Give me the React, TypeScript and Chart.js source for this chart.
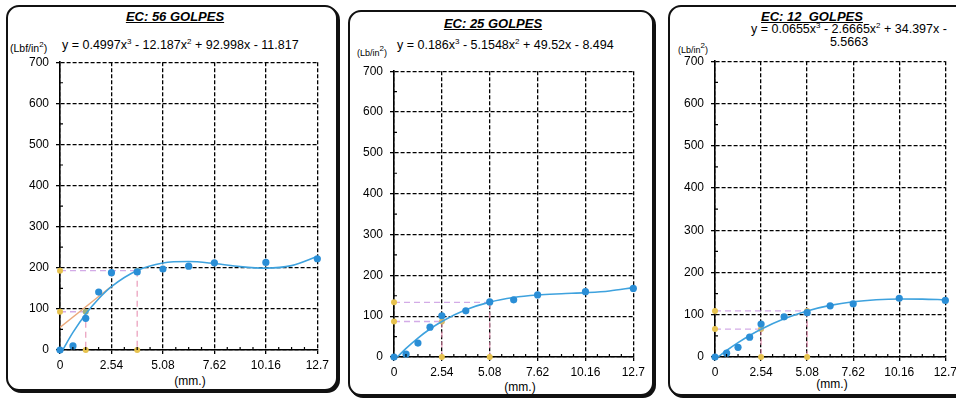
import React, { useEffect, useRef } from "react";
import { Chart, registerables } from "chart.js";
Chart.register(...registerables);

// ---------- data ----------
const penetration = [0, 0.64, 1.27, 1.91, 2.54, 3.81, 5.08, 6.35, 7.62, 10.16, 12.7];
const load56 = [0, 10, 77, 141, 188, 190, 197, 204, 212, 213, 222];
const load25 = [0, 7, 34, 73, 101, 113, 135, 140, 152, 160, 168];
const load12 = [0, 9, 23, 47, 78, 95, 105, 121, 126, 139, 134];

const trendX56 = [0.13, 0.64, 1.27, 1.91, 2.54, 3.81, 5.08, 6.35, 7.62, 8.89, 10.16, 11.43, 12.7];
const trend56 = [0, 42.8, 87.7, 124.8, 154.0, 193.2, 211.6, 215.2, 210.3, 202.8, 199.1, 205.2, 227.3];
const trendX25 = [0.175, 0.64, 1.27, 1.91, 2.54, 3.81, 5.08, 6.35, 7.62, 8.89, 10.16, 11.43, 12.7];
const trend25 = [0, 21.1, 46.5, 68.6, 87.1, 115.6, 134.4, 145.7, 151.8, 155.0, 157.6, 161.8, 170.0];
const trendX12 = [0.165, 0.64, 1.27, 1.91, 2.54, 3.81, 5.08, 6.35, 7.62, 8.89, 10.16, 11.43, 12.7];
const trend12 = [0, 15.4, 33.9, 50.9, 65.7, 90.4, 109.0, 122.1, 130.7, 135.5, 137.3, 137.0, 135.4];

// correction reading points (x on curve, value read)
const hitsX56 = [1.27, 3.81];
const hitsY56 = [93, 193];
const hitsX25 = [2.54, 5.08];
const hitsY25 = [87, 134];
const hitsX12 = [2.54, 5.08];
const hitsY12 = [66, 109];

// corrected initial tangent (panel 56)
const tangentX56 = [0, 2.54];
const tangentY56 = [55, 155];

const xTicks = [0, 2.54, 5.08, 7.62, 10.16, 12.7];
const xTickLabels = ["0", "2.54", "5.08", "7.62", "10.16", "12.7"];
const minorX = [0.635, 1.27, 1.905, 3.175, 3.81, 4.445, 5.715, 6.35, 6.985, 8.255, 8.89, 9.525, 10.795, 11.43, 12.065];
const minorY = [50, 150, 250, 350, 450, 550, 650];

const FONT = "'Liberation Sans', Arial, Helvetica, sans-serif";

const minorTicks = {
  id: "minorTicks",
  afterDraw(chart: any) {
    const ctx = chart.ctx;
    const xs = chart.scales.x;
    const ys = chart.scales.y;
    const a = chart.chartArea;
    ctx.save();
    ctx.strokeStyle = "#000";
    ctx.lineWidth = 1.2;
    ctx.beginPath();
    minorX.forEach((v) => {
      const px = xs.getPixelForValue(v);
      ctx.moveTo(px, a.bottom);
      ctx.lineTo(px, a.bottom - 3);
    });
    minorY.forEach((v) => {
      const py = ys.getPixelForValue(v);
      ctx.moveTo(a.left, py);
      ctx.lineTo(a.left + 3, py);
    });
    ctx.stroke();
    ctx.restore();
  },
};

function buildConfig(
  ptsY: number[],
  trX: number[],
  trY: number[],
  hX: number[],
  hY: number[],
  tanX: number[] | null,
  tanY: number[] | null,
  hitColor: string
): any {
  const datasets: any[] = [];
  datasets.push({
    label: "pts",
    data: penetration.map((x, i) => ({ x, y: ptsY[i] })),
    backgroundColor: "#2a8ed6",
    borderColor: "#2a8ed6",
    pointRadius: 3.6,
    pointBorderWidth: 0,
    showLine: false,
    clip: false,
  });
  datasets.push({
    label: "trend",
    data: trX.map((x, i) => ({ x, y: trY[i] })),
    borderColor: "#3ea2de",
    borderWidth: 1.6,
    pointRadius: 0,
    showLine: true,
    cubicInterpolationMode: "monotone",
  });
  datasets.push({
    label: "hits",
    data: hX.map((x, i) => ({ x, y: hY[i] })),
    backgroundColor: hitColor,
    borderWidth: 0,
    pointRadius: 3,
    showLine: false,
    clip: false,
  });
  datasets.push({
    label: "axisMarks",
    data: [
      ...hX.map((x) => ({ x, y: 0 })),
      ...hY.map((y) => ({ x: 0, y })),
    ],
    backgroundColor: "#e6c24e",
    borderWidth: 0,
    pointRadius: 3,
    showLine: false,
    clip: false,
  });
  if (tanX && tanY) {
    datasets.push({
      label: "tangent",
      data: tanX.map((x, i) => ({ x, y: tanY[i] })),
      borderColor: "#eba97a",
      borderWidth: 1.3,
      pointRadius: 0,
      showLine: true,
    });
  }
  hX.forEach((x, i) => {
    datasets.push({
      label: "guideH" + i,
      data: [
        { x: 0, y: hY[i] },
        { x, y: hY[i] },
      ],
      borderColor: "rgba(200,150,225,0.8)",
      borderDash: [6, 4],
      borderWidth: 1.3,
      pointRadius: 0,
      showLine: true,
    });
    datasets.push({
      label: "guideV" + i,
      data: [
        { x, y: hY[i] },
        { x, y: 0 },
      ],
      borderColor: "rgba(230,140,175,0.8)",
      borderDash: [6, 4],
      borderWidth: 1.3,
      pointRadius: 0,
      showLine: true,
    });
  });

  const gridCommon = {
    color: "#000",
    lineWidth: 1.3,
    tickLength: 4,
    drawTicks: true,
    tickColor: "#000",
  };
  return {
    type: "scatter",
    data: { datasets },
    plugins: [minorTicks],
    options: {
      animation: false,
      responsive: false,
      events: [],
      layout: { padding: { top: 10, right: 14, left: 0, bottom: 0 } },
      plugins: { legend: { display: false }, tooltip: { enabled: false } },
      scales: {
        x: {
          type: "linear",
          min: 0,
          max: 12.7,
          afterBuildTicks: (s: any) => {
            s.ticks = xTicks.map((v) => ({ value: v }));
          },
          afterFit: (s: any) => {
            s.height = 20;
          },
          ticks: {
            autoSkip: false,
            maxRotation: 0,
            padding: 4,
            color: "#000",
            font: { family: FONT, size: 12 },
            callback: (_v: any, i: number) => xTickLabels[i],
          },
          grid: gridCommon,
          border: { display: true, color: "#000", width: 1.6, dash: [4, 2] },
        },
        y: {
          type: "linear",
          min: 0,
          max: 700,
          afterFit: (s: any) => {
            s.width = 44;
          },
          ticks: {
            stepSize: 100,
            padding: 7,
            color: "#000",
            font: { family: FONT, size: 12 },
          },
          grid: gridCommon,
          border: { display: true, color: "#000", width: 1.6, dash: [4, 2] },
        },
      },
    },
  };
}

function ChartCanvas(props: { left: number; top: number; width: number; height: number; config: () => any }) {
  const ref = useRef<HTMLCanvasElement | null>(null);
  useEffect(() => {
    if (!ref.current) return;
    const chart = new Chart(ref.current, props.config());
    return () => chart.destroy();
  }, []);
  return (
    <canvas
      ref={ref}
      width={props.width}
      height={props.height}
      style={{
        position: "absolute",
        left: props.left,
        top: props.top,
        width: props.width,
        height: props.height,
      }}
    />
  );
}

const Sup = (p: { c: string }) => (
  <span style={{ fontSize: 8, position: "relative", top: -5, lineHeight: 0 }}>{p.c}</span>
);

function Text(props: {
  left: number;
  top: number;
  width?: number;
  size: number;
  bold?: boolean;
  italic?: boolean;
  underline?: boolean;
  align?: any;
  lh?: number;
  children: any;
}) {
  return (
    <div
      style={{
        position: "absolute",
        left: props.left,
        top: props.top,
        width: props.width,
        textAlign: props.align || "left",
        fontFamily: FONT,
        fontSize: props.size,
        fontWeight: props.bold ? "bold" : "normal",
        fontStyle: props.italic ? "italic" : "normal",
        textDecoration: props.underline ? "underline" : "none",
        lineHeight: (props.lh || 16) + "px",
        whiteSpace: "pre",
        color: "#000",
      }}
    >
      {props.children}
    </div>
  );
}

const panelStyle = (left: number, top: number, width: number, height: number): any => ({
  position: "absolute",
  left,
  top,
  width,
  height,
  border: "2px solid #111",
  borderRadius: 13,
  boxShadow: "2px 2px 0 #111",
  boxSizing: "border-box",
  background: "#fff",
});

export default function App() {
  return (
    <div
      style={{
        position: "absolute",
        left: 0,
        top: 0,
        width: 956,
        height: 398,
        overflow: "hidden",
        background: "#fff",
      }}
    >
      <div style={panelStyle(6, 5, 332, 386)} />
      <div style={panelStyle(348, 10, 306, 386)} />
      <div style={panelStyle(668, 5, 300, 391)} />

      {/* Panel 1 */}
      <Text left={75} top={9} width={200} size={13} bold italic underline align="center">
        EC: 56 GOLPES
      </Text>
      <Text left={62} top={37} size={12.5}>
        y = 0.4997x<Sup c="3" /> - 12.187x<Sup c="2" /> + 92.998x - 11.817
      </Text>
      <Text left={10} top={40} size={10.5}>
        (Lbf/in<Sup c="2" />)
      </Text>
      <Text left={140} top={373} width={100} size={12} align="center">
        (mm.)
      </Text>
      <ChartCanvas
        left={16}
        top={48}
        width={317}
        height={322}
        config={() => buildConfig(load56, trendX56, trend56, hitsX56, hitsY56, tangentX56, tangentY56, "#9fb07a")}
      />

      {/* Panel 2 */}
      <Text left={393} top={16} width={200} size={13} bold italic underline align="center">
        EC: 25 GOLPES
      </Text>
      <Text left={397} top={37} size={12.5}>
        y = 0.186x<Sup c="3" /> - 5.1548x<Sup c="2" /> + 49.52x - 8.494
      </Text>
      <Text left={357} top={45} size={9}>
        (Lb/in<Sup c="2" />)
      </Text>
      <Text left={470} top={379} width={100} size={12} align="center">
        (mm.)
      </Text>
      <ChartCanvas
        left={350}
        top={57}
        width={299}
        height={320}
        config={() => buildConfig(load25, trendX25, trend25, hitsX25, hitsY25, null, null, "#d9b96a")}
      />

      {/* Panel 3 */}
      <Text left={712} top={9} width={200} size={13} bold italic underline align="center">
        {"EC: 12  GOLPES"}
      </Text>
      <Text left={739} top={23} width={220} size={12.5} lh={13} align="center">
        y = 0.0655x<Sup c="3" /> - 2.6665x<Sup c="2" /> + 34.397x -{"\n"}5.5663
      </Text>
      <Text left={678} top={42} size={9}>
        (Lb/in<Sup c="2" />)
      </Text>
      <Text left={782} top={376} width={100} size={12} align="center">
        (mm.)
      </Text>
      <ChartCanvas
        left={671}
        top={47}
        width={290}
        height={330}
        config={() => buildConfig(load12, trendX12, trend12, hitsX12, hitsY12, null, null, "#d9b96a")}
      />
    </div>
  );
}
